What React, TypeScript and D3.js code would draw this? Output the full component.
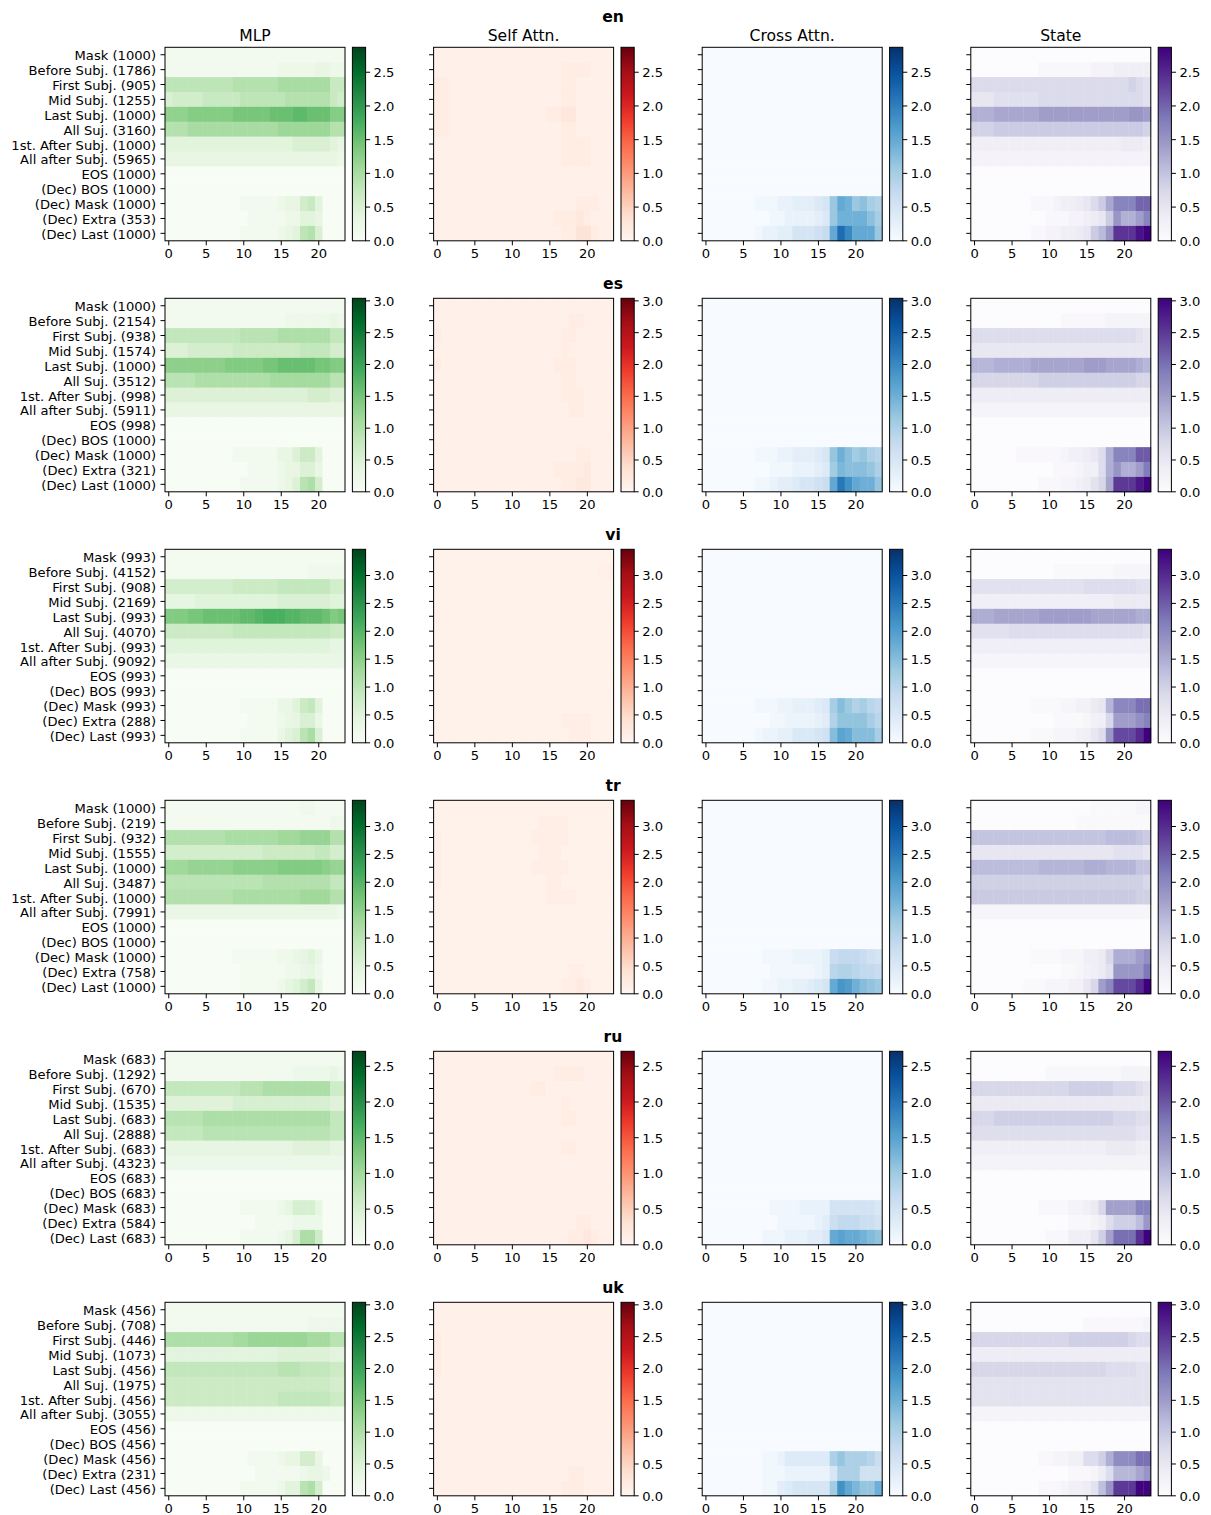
import React from "react";
import * as d3 from "d3";

// Languages (one row of panels each) and the four module columns
const LANGS = ["en", "es", "vi", "tr", "ru", "uk"];
const MODULES = ["MLP", "Self Attn.", "Cross Attn.", "State"];
const TOKENS = [
  "Mask", "Before Subj.", "First Subj.", "Mid Subj.", "Last Subj.", "All Suj.",
  "1st. After Subj.", "All after Subj.", "EOS", "(Dec) BOS", "(Dec) Mask", "(Dec) Extra", "(Dec) Last",
];

// Number of samples behind each token position
const EN_COUNTS = [1000, 1786, 905, 1255, 1000, 3160, 1000, 5965, 1000, 1000, 1000, 353, 1000];
const ES_COUNTS = [1000, 2154, 938, 1574, 1000, 3512, 998, 5911, 998, 1000, 1000, 321, 1000];
const VI_COUNTS = [993, 4152, 908, 2169, 993, 4070, 993, 9092, 993, 993, 993, 288, 993];
const TR_COUNTS = [1000, 219, 932, 1555, 1000, 3487, 1000, 7991, 1000, 1000, 1000, 758, 1000];
const RU_COUNTS = [683, 1292, 670, 1535, 683, 2888, 683, 4323, 683, 683, 683, 584, 683];
const UK_COUNTS = [456, 708, 446, 1073, 456, 1975, 456, 3055, 456, 456, 456, 231, 456];

// Upper limit of the shared colour scale for each language
const COLOR_MAX = [2.87, 3.04, 3.47, 3.47, 2.71, 3.04];
const LAYER_TICKS = [0, 5, 10, 15, 20];
const COLORBAR_TICKS = [0, 0.5, 1, 1.5, 2, 2.5, 3, 3.5];
const N_LAYERS = 24;

// Effect per token (rows) and layer (columns).
// MLP, cross-attention and state effects are stored in tenths,
// self-attention effects (much smaller) in hundredths.
const EN_MLP = [
  [1,1,1,1,1,1,1,1,1,1,1,1,1,1,1,1,1,1,1,1,1,1,1,1],
  [1,1,1,1,1,1,1,1,1,1,1,1,1,1,1,2,2,2,2,2,3,3,2,2],
  [8,8,8,8,8,8,8,8,8,9,9,9,9,9,9,10,10,10,10,10,10,10,7,7],
  [5,6,6,6,6,7,7,7,7,7,8,8,8,8,8,8,9,9,9,9,9,9,7,6],
  [12,12,12,13,13,13,13,13,13,14,14,14,14,14,15,15,15,16,16,15,15,15,13,13],
  [9,9,9,10,10,10,10,10,10,10,10,10,10,10,10,11,11,11,11,11,11,11,9,9],
  [4,4,4,4,4,4,4,4,4,4,4,4,4,4,4,4,4,5,5,5,5,5,4,3],
  [3,3,3,3,3,3,3,3,3,3,3,3,3,3,3,3,3,3,3,3,3,3,3,2],
  [0,0,0,0,0,0,0,0,0,0,0,0,0,0,0,0,0,0,0,0,0,0,0,0],
  [0,0,0,0,0,0,0,0,0,0,0,0,0,0,0,0,0,0,0,0,0,0,0,0],
  [0,0,0,0,0,0,0,0,0,0,1,1,1,1,1,2,3,3,6,7,4,0,0,0],
  [0,0,0,0,0,0,0,0,0,0,0,1,1,1,1,1,2,2,4,4,3,0,0,0],
  [0,0,0,0,0,0,0,0,0,0,1,1,1,1,1,2,3,4,8,9,5,0,0,0],
];
const EN_SELF = [
  [7,7,7,7,7,7,7,7,7,7,7,7,7,7,7,7,7,7,7,7,7,7,7,7],
  [7,7,7,7,7,7,7,7,7,7,7,7,7,7,7,7,7,15,15,15,15,7,7,7],
  [15,15,7,7,7,7,7,7,7,7,7,7,7,7,7,7,7,15,15,7,7,7,7,7],
  [15,15,7,7,7,7,7,7,7,7,7,7,7,7,7,7,7,15,15,7,7,7,7,7],
  [15,15,7,7,7,7,7,7,7,7,7,7,7,7,7,15,15,22,22,7,7,7,7,7],
  [15,15,7,7,7,7,7,7,7,7,7,7,7,7,7,7,7,15,15,7,7,7,7,7],
  [7,7,7,7,7,7,7,7,7,7,7,7,7,7,7,7,7,15,15,15,15,7,7,7],
  [7,7,7,7,7,7,7,7,7,7,7,7,7,7,7,7,7,15,15,15,15,7,7,7],
  [7,7,7,7,7,7,7,7,7,7,7,7,7,7,7,7,7,7,7,7,7,7,7,7],
  [7,7,7,7,7,7,7,7,7,7,7,7,7,7,7,7,7,7,7,7,7,7,7,7],
  [7,7,7,7,7,7,7,7,7,7,7,7,7,7,7,7,7,7,7,15,15,15,7,7],
  [7,7,7,7,7,7,7,7,7,7,7,7,7,7,7,7,15,15,15,22,15,7,7,7],
  [7,7,7,7,7,7,7,7,7,7,7,7,7,7,7,7,7,15,15,30,30,15,7,7],
];
const EN_CROSS = [
  [0,0,0,0,0,0,0,0,0,0,0,0,0,0,0,0,0,0,0,0,0,0,0,0],
  [0,0,0,0,0,0,0,0,0,0,0,0,0,0,0,0,0,0,0,0,0,0,0,0],
  [0,0,0,0,0,0,0,0,0,0,0,0,0,0,0,0,0,0,0,0,0,0,0,0],
  [0,0,0,0,0,0,0,0,0,0,0,0,0,0,0,0,0,0,0,0,0,0,0,0],
  [0,0,0,0,0,0,0,0,0,0,0,0,0,0,0,0,0,0,0,0,0,0,0,0],
  [0,0,0,0,0,0,0,0,0,0,0,0,0,0,0,0,0,0,0,0,0,0,0,0],
  [0,0,0,0,0,0,0,0,0,0,0,0,0,0,0,0,0,0,0,0,0,0,0,0],
  [0,0,0,0,0,0,0,0,0,0,0,0,0,0,0,0,0,0,0,0,0,0,0,0],
  [0,0,0,0,0,0,0,0,0,0,0,0,0,0,0,0,0,0,0,0,0,0,0,0],
  [0,0,0,0,0,0,0,0,0,0,0,0,0,0,0,0,0,0,0,0,0,0,0,0],
  [0,0,0,0,0,0,0,1,1,1,2,2,3,3,3,4,5,11,15,14,11,12,10,9],
  [0,0,0,0,0,0,0,0,0,1,1,2,2,2,2,3,4,11,14,14,14,14,12,10],
  [0,0,0,0,0,0,0,1,2,2,3,3,5,5,5,6,7,15,22,19,15,15,15,11],
];
const EN_STATE = [
  [0,0,0,0,0,0,0,0,0,0,0,0,0,0,0,0,0,0,0,0,0,0,0,0],
  [0,0,0,0,0,0,0,0,0,1,1,1,1,1,1,1,2,2,2,3,3,3,3,3],
  [7,7,7,7,7,7,7,7,7,7,7,7,7,7,7,7,7,7,7,7,7,8,7,6],
  [5,5,5,6,6,6,6,6,6,7,7,7,7,7,7,7,7,7,7,7,7,7,7,6],
  [12,12,12,13,13,13,13,13,13,14,14,14,14,14,14,14,14,14,14,14,14,15,15,14],
  [8,8,8,9,9,9,9,9,9,9,9,9,9,9,9,9,9,9,9,9,9,9,9,8],
  [3,3,3,3,3,3,3,3,3,3,3,3,3,3,3,3,3,3,3,3,4,4,4,3],
  [2,2,2,2,2,2,2,2,2,2,2,2,2,2,2,2,2,2,2,2,2,2,2,2],
  [0,0,0,0,0,0,0,0,0,0,0,0,0,0,0,0,0,0,0,0,0,0,0,0],
  [0,0,0,0,0,0,0,0,0,0,0,0,0,0,0,0,0,0,0,0,0,0,0,0],
  [0,0,0,0,0,0,0,0,1,1,1,2,3,3,4,5,7,9,13,17,17,17,20,20],
  [0,0,0,0,0,0,0,0,0,0,1,1,1,2,2,3,4,5,9,15,12,12,14,17],
  [0,0,0,0,0,0,0,0,1,1,2,2,3,3,4,5,9,11,15,24,24,24,27,29],
];

const ES_MLP = [
  [1,1,1,1,1,1,1,1,1,1,1,1,1,1,1,1,1,1,1,1,1,1,1,1],
  [1,1,1,1,1,1,1,1,1,1,1,1,1,1,1,1,2,2,2,2,2,2,3,2],
  [8,8,8,8,8,8,8,8,8,8,9,9,9,9,9,10,10,10,10,10,10,10,8,8],
  [5,5,5,6,6,6,6,6,6,7,7,7,7,7,7,7,7,7,8,8,8,8,6,6],
  [13,13,13,13,13,13,13,13,14,14,14,14,14,15,15,16,16,16,16,16,15,15,14,14],
  [9,9,9,9,10,10,10,10,10,10,10,10,10,10,11,11,11,11,11,11,11,11,9,9],
  [5,5,5,5,5,5,5,5,5,5,5,5,5,5,5,5,5,5,5,6,6,6,5,5],
  [3,3,3,3,3,3,3,3,3,3,3,3,3,3,3,3,3,3,3,3,3,3,3,3],
  [0,0,0,0,0,0,0,0,0,0,0,0,0,0,0,0,0,0,0,0,0,0,0,0],
  [0,0,0,0,0,0,0,0,0,0,0,0,0,0,0,0,0,0,0,0,0,0,0,0],
  [0,0,0,0,0,0,0,0,0,1,1,1,1,1,1,3,3,5,7,7,4,0,0,0],
  [0,0,0,0,0,0,0,0,0,0,0,1,1,1,1,2,3,3,5,5,3,0,0,0],
  [0,0,0,0,0,0,0,0,0,0,1,1,1,1,1,2,3,5,9,10,6,0,0,0],
];
const ES_SELF = [
  [7,7,7,7,7,7,7,7,7,7,7,7,7,7,7,7,7,7,7,7,7,7,7,7],
  [7,7,7,7,7,7,7,7,7,7,7,7,7,7,7,7,7,7,15,15,7,7,7,7],
  [15,7,7,7,7,7,7,7,7,7,7,7,7,7,7,7,7,15,15,7,7,7,7,7],
  [7,7,7,7,7,7,7,7,7,7,7,7,7,7,7,7,7,15,7,7,7,7,7,7],
  [15,7,7,7,7,7,7,7,7,7,7,7,7,7,7,7,15,15,15,7,7,7,7,7],
  [7,7,7,7,7,7,7,7,7,7,7,7,7,7,7,7,7,15,15,7,7,7,7,7],
  [7,7,7,7,7,7,7,7,7,7,7,7,7,7,7,7,7,15,15,15,7,7,7,7],
  [7,7,7,7,7,7,7,7,7,7,7,7,7,7,7,7,7,7,15,15,7,7,7,7],
  [7,7,7,7,7,7,7,7,7,7,7,7,7,7,7,7,7,7,7,7,7,7,7,7],
  [7,7,7,7,7,7,7,7,7,7,7,7,7,7,7,7,7,7,7,7,7,7,7,7],
  [7,7,7,7,7,7,7,7,7,7,7,7,7,7,7,7,7,7,7,15,15,7,7,7],
  [7,7,7,7,7,7,7,7,7,7,7,7,7,7,7,7,15,15,15,15,22,7,7,7],
  [7,7,7,7,7,7,7,7,7,7,7,7,7,7,7,7,7,15,15,22,22,7,7,7],
];
const ES_CROSS = [
  [0,0,0,0,0,0,0,0,0,0,0,0,0,0,0,0,0,0,0,0,0,0,0,0],
  [0,0,0,0,0,0,0,0,0,0,0,0,0,0,0,0,0,0,0,0,0,0,0,0],
  [0,0,0,0,0,0,0,0,0,0,0,0,0,0,0,0,0,0,0,0,0,0,0,0],
  [0,0,0,0,0,0,0,0,0,0,0,0,0,0,0,0,0,0,0,0,0,0,0,0],
  [0,0,0,0,0,0,0,0,0,0,0,0,0,0,0,0,0,0,0,0,0,0,0,0],
  [0,0,0,0,0,0,0,0,0,0,0,0,0,0,0,0,0,0,0,0,0,0,0,0],
  [0,0,0,0,0,0,0,0,0,0,0,0,0,0,0,0,0,0,0,0,0,0,0,0],
  [0,0,0,0,0,0,0,0,0,0,0,0,0,0,0,0,0,0,0,0,0,0,0,0],
  [0,0,0,0,0,0,0,0,0,0,0,0,0,0,0,0,0,0,0,0,0,0,0,0],
  [0,0,0,0,0,0,0,0,0,0,0,0,0,0,0,0,0,0,0,0,0,0,0,0],
  [0,0,0,0,0,0,0,1,1,1,2,2,3,3,3,4,5,12,15,13,11,12,10,9],
  [0,0,0,0,0,0,0,0,0,1,1,1,2,2,2,3,4,11,14,13,13,13,12,10],
  [0,0,0,0,0,0,0,1,1,2,3,3,4,5,5,6,7,16,22,19,16,15,15,12],
];
const ES_STATE = [
  [0,0,0,0,0,0,0,0,0,0,0,0,0,0,0,0,0,0,0,0,0,0,0,0],
  [0,0,0,0,0,0,0,0,0,0,0,0,1,1,1,1,1,1,2,2,2,2,2,2],
  [7,7,7,7,7,7,7,7,7,7,7,7,7,7,7,7,7,7,7,7,7,7,6,5],
  [5,5,5,5,5,5,5,5,5,5,5,5,5,5,5,5,5,5,5,5,5,5,5,5],
  [12,12,12,13,13,13,13,13,14,14,14,14,14,14,14,15,15,15,14,14,14,14,13,12],
  [8,8,8,8,8,8,8,8,8,9,9,9,9,9,9,9,9,9,9,9,9,9,8,8],
  [4,4,4,4,4,4,4,4,4,4,4,4,4,4,4,4,4,4,4,4,4,4,4,4],
  [2,2,2,2,2,2,2,2,2,2,2,2,2,2,2,2,2,2,2,2,2,2,2,2],
  [0,0,0,0,0,0,0,0,0,0,0,0,0,0,0,0,0,0,0,0,0,0,0,0],
  [0,0,0,0,0,0,0,0,0,0,0,0,0,0,0,0,0,0,0,0,0,0,0,0],
  [0,0,0,0,0,0,1,1,1,1,1,1,2,3,3,4,5,7,13,18,18,18,22,22],
  [0,0,0,0,0,0,0,0,0,0,0,1,1,1,2,3,3,7,13,16,13,13,15,19],
  [0,0,0,0,0,0,0,0,0,1,1,1,2,2,3,4,6,8,14,25,25,25,28,30],
];

const VI_MLP = [
  [1,1,1,1,1,1,1,1,1,1,1,1,1,1,1,1,1,1,1,1,1,1,1,1],
  [1,1,1,1,1,1,1,1,1,1,1,1,1,1,1,1,1,1,1,2,2,2,2,2],
  [7,7,7,7,7,7,7,7,7,8,8,8,8,8,8,9,9,9,9,9,9,9,7,7],
  [4,4,4,4,5,5,5,5,5,5,5,5,5,5,5,6,6,6,6,6,6,6,5,5],
  [16,16,16,17,17,18,18,18,18,18,19,19,20,21,21,21,20,20,19,19,19,18,16,17],
  [8,8,8,8,8,8,8,8,8,9,9,9,9,9,9,9,9,9,9,9,9,9,8,8],
  [5,5,5,5,5,5,5,5,5,5,5,5,5,5,5,5,5,5,5,5,5,5,4,4],
  [3,3,3,3,3,3,3,3,3,3,3,3,3,3,3,3,3,3,3,3,3,3,3,3],
  [0,0,0,0,0,0,0,0,0,0,0,0,0,0,0,0,0,0,0,0,0,0,0,0],
  [0,0,0,0,0,0,0,0,0,0,0,0,0,0,0,0,0,0,0,0,0,0,0,0],
  [0,0,0,0,0,0,0,0,0,0,1,1,1,1,1,3,3,5,8,9,5,0,0,0],
  [0,0,0,0,0,0,0,0,0,0,0,1,1,1,1,2,3,4,6,6,3,0,0,0],
  [0,0,0,0,0,0,0,0,0,0,1,1,1,1,1,3,5,6,10,12,6,0,0,0],
];
const VI_SELF = [
  [7,7,7,7,7,7,7,7,7,7,7,7,7,7,7,7,7,7,7,7,7,7,7,7],
  [7,7,7,7,7,7,7,7,7,7,7,7,7,7,7,7,7,7,7,7,7,7,12,12],
  [7,7,7,7,7,7,7,7,7,7,7,7,7,7,7,7,7,7,7,7,7,7,7,7],
  [7,7,7,7,7,7,7,7,7,7,7,7,7,7,7,7,7,7,7,7,7,7,7,7],
  [12,7,7,7,7,7,7,7,7,7,7,7,7,7,7,7,7,7,7,7,7,7,7,7],
  [7,7,7,7,7,7,7,7,7,7,7,7,7,7,7,7,7,7,7,7,7,7,7,7],
  [7,7,7,7,7,7,7,7,7,7,7,7,7,7,7,7,7,7,7,7,7,7,7,7],
  [7,7,7,7,7,7,7,7,7,7,7,7,7,7,7,7,7,7,7,7,7,7,7,7],
  [7,7,7,7,7,7,7,7,7,7,7,7,7,7,7,7,7,7,7,7,7,7,7,7],
  [7,7,7,7,7,7,7,7,7,7,7,7,7,7,7,7,7,7,7,7,7,7,7,7],
  [7,7,7,7,7,7,7,7,7,7,7,7,7,7,7,7,7,7,7,7,7,7,7,7],
  [7,7,7,7,7,7,7,7,7,7,7,7,7,7,7,7,7,15,15,15,15,7,7,7],
  [7,7,7,7,7,7,7,7,7,7,7,7,7,7,7,7,7,7,15,15,15,7,7,7],
];
const VI_CROSS = [
  [0,0,0,0,0,0,0,0,0,0,0,0,0,0,0,0,0,0,0,0,0,0,0,0],
  [0,0,0,0,0,0,0,0,0,0,0,0,0,0,0,0,0,0,0,0,0,0,0,0],
  [0,0,0,0,0,0,0,0,0,0,0,0,0,0,0,0,0,0,0,0,0,0,0,0],
  [0,0,0,0,0,0,0,0,0,0,0,0,0,0,0,0,0,0,0,0,0,0,0,0],
  [0,0,0,0,0,0,0,0,0,0,0,0,0,0,0,0,0,0,0,0,0,0,0,0],
  [0,0,0,0,0,0,0,0,0,0,0,0,0,0,0,0,0,0,0,0,0,0,0,0],
  [0,0,0,0,0,0,0,0,0,0,0,0,0,0,0,0,0,0,0,0,0,0,0,0],
  [0,0,0,0,0,0,0,0,0,0,0,0,0,0,0,0,0,0,0,0,0,0,0,0],
  [0,0,0,0,0,0,0,0,0,0,0,0,0,0,0,0,0,0,0,0,0,0,0,0],
  [0,0,0,0,0,0,0,0,0,0,0,0,0,0,0,0,0,0,0,0,0,0,0,0],
  [0,0,0,0,0,0,0,1,1,1,2,2,3,3,3,4,5,12,15,13,11,12,10,9],
  [0,0,0,0,0,0,0,0,0,1,1,2,2,2,2,3,4,11,14,14,14,14,12,10],
  [0,0,0,0,0,0,0,1,2,2,3,3,5,5,5,6,7,15,19,18,15,15,15,12],
];
const VI_STATE = [
  [0,0,0,0,0,0,0,0,0,0,0,0,0,0,0,0,0,0,0,0,0,0,0,0],
  [0,0,0,0,0,0,0,0,0,0,0,1,1,1,1,1,1,1,1,2,2,2,2,2],
  [7,7,7,7,7,7,7,7,7,7,7,7,7,7,7,8,8,8,8,8,8,8,7,7],
  [4,4,4,4,4,4,4,4,4,4,4,4,4,4,4,4,4,4,4,5,5,5,5,5],
  [15,15,15,16,16,16,16,16,16,17,17,17,17,17,17,17,16,16,16,16,16,16,15,15],
  [7,7,7,7,7,8,8,8,8,8,8,8,8,8,8,8,8,8,8,8,8,8,8,7],
  [4,4,4,4,4,4,4,4,4,4,4,4,4,4,4,4,4,4,4,4,4,4,4,4],
  [2,2,2,2,2,2,2,2,2,2,2,2,2,2,2,2,2,2,2,2,2,2,2,2],
  [0,0,0,0,0,0,0,0,0,0,0,0,0,0,0,0,0,0,0,0,0,0,0,0],
  [0,0,0,0,0,0,0,0,0,0,0,0,0,0,0,0,0,0,0,0,0,0,0,0],
  [0,0,0,0,0,0,0,0,1,1,1,1,2,2,3,3,5,6,14,20,20,20,23,23],
  [0,0,0,0,0,0,0,0,0,0,0,1,1,1,1,2,3,4,9,17,17,17,19,21],
  [0,0,0,0,0,0,0,0,1,1,1,2,2,2,3,4,6,8,18,27,27,27,30,35],
];

const TR_MLP = [
  [1,1,1,1,1,1,1,1,1,1,1,1,1,1,1,1,1,1,2,2,1,1,1,1],
  [1,1,1,1,1,1,1,1,1,1,1,1,1,1,1,1,1,1,1,1,1,1,2,2],
  [11,11,11,11,11,11,11,11,12,12,12,12,12,12,12,13,13,13,14,14,14,14,11,11],
  [7,7,7,7,7,7,7,7,7,7,7,7,7,8,8,8,8,8,8,8,9,9,7,7],
  [13,13,13,14,14,14,14,14,14,15,15,15,15,15,15,16,16,16,16,16,16,15,14,14],
  [10,10,10,10,10,10,10,10,10,10,10,10,10,11,11,11,11,11,11,11,11,11,9,9],
  [11,11,11,11,11,11,11,11,11,12,12,12,12,12,12,12,12,12,13,13,13,13,11,11],
  [3,3,3,3,3,3,3,3,3,3,3,3,3,3,3,3,3,3,3,3,3,3,3,2],
  [0,0,0,0,0,0,0,0,0,0,0,0,0,0,0,0,0,0,0,0,0,0,0,0],
  [0,0,0,0,0,0,0,0,0,0,0,0,0,0,0,0,0,0,0,0,0,0,0,0],
  [0,0,0,0,0,0,0,0,0,1,1,1,1,1,1,2,2,3,4,5,3,0,0,0],
  [0,0,0,0,0,0,0,0,0,0,1,1,1,1,1,1,2,2,3,4,2,0,0,0],
  [0,0,0,0,0,0,0,0,0,0,1,1,1,1,1,2,4,5,7,9,4,0,0,0],
];
const TR_SELF = [
  [7,7,7,7,7,7,7,7,7,7,7,7,7,7,7,7,7,7,7,7,7,7,7,7],
  [7,7,7,7,7,7,7,7,7,7,7,7,7,7,15,15,15,15,7,7,7,7,7,7],
  [15,7,7,7,7,7,7,7,7,7,7,7,7,15,15,15,15,15,7,7,7,7,7,7],
  [15,7,7,7,7,7,7,7,7,7,7,7,7,7,15,15,15,7,7,7,7,7,7,7],
  [15,7,7,7,7,7,7,7,7,7,7,7,7,15,15,15,15,15,7,7,7,7,7,7],
  [15,7,7,7,7,7,7,7,7,7,7,7,7,7,7,15,15,7,7,7,7,7,7,7],
  [7,7,7,7,7,7,7,7,7,7,7,7,7,7,7,15,15,15,15,7,7,7,7,7],
  [7,7,7,7,7,7,7,7,7,7,7,7,7,7,7,7,7,7,7,7,7,7,7,7],
  [7,7,7,7,7,7,7,7,7,7,7,7,7,7,7,7,7,7,7,7,7,7,7,7],
  [7,7,7,7,7,7,7,7,7,7,7,7,7,7,7,7,7,7,7,7,7,7,7,7],
  [7,7,7,7,7,7,7,7,7,7,7,7,7,7,7,7,7,7,7,7,7,7,7,7],
  [7,7,7,7,7,7,7,7,7,7,7,7,7,7,7,7,7,7,15,15,7,7,7,7],
  [7,7,7,7,7,7,7,7,7,7,7,7,7,7,7,7,7,15,15,22,15,7,7,7],
];
const TR_CROSS = [
  [0,0,0,0,0,0,0,0,0,0,0,0,0,0,0,0,0,0,0,0,0,0,0,0],
  [0,0,0,0,0,0,0,0,0,0,0,0,0,0,0,0,0,0,0,0,0,0,0,0],
  [0,0,0,0,0,0,0,0,0,0,0,0,0,0,0,0,0,0,0,0,0,0,0,0],
  [0,0,0,0,0,0,0,0,0,0,0,0,0,0,0,0,0,0,0,0,0,0,0,0],
  [0,0,0,0,0,0,0,0,0,0,0,0,0,0,0,0,0,0,0,0,0,0,0,0],
  [0,0,0,0,0,0,0,0,0,0,0,0,0,0,0,0,0,0,0,0,0,0,0,0],
  [0,0,0,0,0,0,0,0,0,0,0,0,0,0,0,0,0,0,0,0,0,0,0,0],
  [0,0,0,0,0,0,0,0,0,0,0,0,0,0,0,0,0,0,0,0,0,0,0,0],
  [0,0,0,0,0,0,0,0,0,0,0,0,0,0,0,0,0,0,0,0,0,0,0,0],
  [0,0,0,0,0,0,0,0,0,0,0,0,0,0,0,0,0,0,0,0,0,0,0,0],
  [0,0,0,0,0,0,0,0,1,1,1,1,2,2,2,2,3,8,9,9,9,8,7,6],
  [0,0,0,0,0,0,0,0,0,1,1,1,1,1,1,2,3,10,11,11,10,9,9,8],
  [0,0,0,0,0,0,0,0,1,1,2,2,3,3,4,5,6,18,21,20,17,15,14,13],
];
const TR_STATE = [
  [0,0,0,0,0,0,0,0,0,0,0,0,0,0,0,0,1,1,1,1,1,1,2,2],
  [0,0,0,0,0,0,0,0,0,0,0,0,0,0,1,1,1,1,1,1,1,1,1,1],
  [12,12,12,12,12,12,12,12,12,12,12,12,12,12,12,12,12,12,13,13,13,13,12,11],
  [6,6,6,6,6,6,6,6,6,6,6,6,6,6,6,6,6,6,6,7,7,7,7,6],
  [13,13,13,13,13,13,13,13,13,14,14,14,14,14,14,15,15,15,14,14,14,14,12,12],
  [10,10,10,10,10,10,10,10,10,10,10,10,10,10,10,10,10,10,10,10,10,10,10,9],
  [11,11,11,11,11,11,11,11,11,11,11,11,11,11,11,11,11,11,11,11,11,11,10,10],
  [2,2,2,2,2,2,2,2,2,2,2,2,2,2,2,2,2,2,2,2,2,2,2,2],
  [0,0,0,0,0,0,0,0,0,0,0,0,0,0,0,0,0,0,0,0,0,0,0,0],
  [0,0,0,0,0,0,0,0,0,0,0,0,0,0,0,0,0,0,0,0,0,0,0,0],
  [0,0,0,0,0,0,0,0,1,1,1,1,2,2,2,4,4,5,9,15,15,15,17,19],
  [0,0,0,0,0,0,0,0,0,0,0,0,1,1,2,3,4,5,7,18,18,18,18,22],
  [0,0,0,0,0,0,0,1,1,1,2,2,2,3,3,6,9,17,20,27,27,27,30,35],
];

const RU_MLP = [
  [1,1,1,1,1,1,1,1,1,1,1,1,1,1,1,1,1,1,1,1,1,1,1,1],
  [1,1,1,1,1,1,1,1,1,1,1,1,1,1,1,1,1,2,2,2,2,2,3,2],
  [7,7,7,7,7,7,7,7,7,7,8,8,8,9,9,9,9,9,9,9,9,9,6,6],
  [4,4,4,4,4,4,4,4,4,5,5,5,5,5,5,5,5,5,5,5,5,5,4,4],
  [8,8,8,8,8,9,9,9,9,9,9,9,9,9,9,9,9,9,9,9,9,9,7,7],
  [7,7,7,7,7,8,8,8,8,8,8,8,8,8,8,8,8,8,8,8,8,8,7,7],
  [3,3,3,3,3,3,3,3,3,3,3,3,3,3,3,3,3,4,4,4,4,4,3,3],
  [2,2,2,2,2,2,2,2,2,2,2,2,2,2,2,2,2,2,2,2,2,2,2,2],
  [0,0,0,0,0,0,0,0,0,0,0,0,0,0,0,0,0,0,0,0,0,0,0,0],
  [0,0,0,0,0,0,0,0,0,0,0,0,0,0,0,0,0,0,0,0,0,0,0,0],
  [0,0,0,0,0,0,0,0,0,0,1,1,1,1,1,2,3,5,5,5,3,0,0,0],
  [0,0,0,0,0,0,0,0,0,0,0,0,1,1,1,1,1,2,2,2,2,0,0,0],
  [0,0,0,0,0,0,0,0,0,0,1,1,1,1,1,2,3,5,9,9,6,0,0,0],
];
const RU_SELF = [
  [7,7,7,7,7,7,7,7,7,7,7,7,7,7,7,7,7,7,7,7,7,7,7,7],
  [7,7,7,7,7,7,7,7,7,7,7,7,7,7,7,7,15,15,15,15,7,7,7,7],
  [7,7,7,7,7,7,7,7,7,7,7,7,7,15,15,7,7,7,7,7,7,7,7,7],
  [7,7,7,7,7,7,7,7,7,7,7,7,7,7,7,7,7,15,7,7,7,7,7,7],
  [7,7,7,7,7,7,7,7,7,7,7,7,7,7,7,7,7,15,15,7,7,7,7,7],
  [7,7,7,7,7,7,7,7,7,7,7,7,7,7,7,7,7,7,7,7,7,7,7,7],
  [7,7,7,7,7,7,7,7,7,7,7,7,7,7,7,7,7,15,15,7,7,7,7,7],
  [7,7,7,7,7,7,7,7,7,7,7,7,7,7,7,7,7,7,7,7,7,7,7,7],
  [7,7,7,7,7,7,7,7,7,7,7,7,7,7,7,7,7,7,7,7,7,7,7,7],
  [7,7,7,7,7,7,7,7,7,7,7,7,7,7,7,7,7,7,7,7,7,7,7,7],
  [7,7,7,7,7,7,7,7,7,7,7,7,7,7,7,7,7,7,7,7,7,7,7,7],
  [7,7,7,7,7,7,7,7,7,7,7,7,7,7,7,7,7,7,7,15,15,7,7,7],
  [7,7,7,7,7,7,7,7,7,7,7,7,7,7,7,7,7,7,15,15,22,15,7,7],
];
const RU_CROSS = [
  [0,0,0,0,0,0,0,0,0,0,0,0,0,0,0,0,0,0,0,0,0,0,0,0],
  [0,0,0,0,0,0,0,0,0,0,0,0,0,0,0,0,0,0,0,0,0,0,0,0],
  [0,0,0,0,0,0,0,0,0,0,0,0,0,0,0,0,0,0,0,0,0,0,0,0],
  [0,0,0,0,0,0,0,0,0,0,0,0,0,0,0,0,0,0,0,0,0,0,0,0],
  [0,0,0,0,0,0,0,0,0,0,0,0,0,0,0,0,0,0,0,0,0,0,0,0],
  [0,0,0,0,0,0,0,0,0,0,0,0,0,0,0,0,0,0,0,0,0,0,0,0],
  [0,0,0,0,0,0,0,0,0,0,0,0,0,0,0,0,0,0,0,0,0,0,0,0],
  [0,0,0,0,0,0,0,0,0,0,0,0,0,0,0,0,0,0,0,0,0,0,0,0],
  [0,0,0,0,0,0,0,0,0,0,0,0,0,0,0,0,0,0,0,0,0,0,0,0],
  [0,0,0,0,0,0,0,0,0,0,0,0,0,0,0,0,0,0,0,0,0,0,0,0],
  [0,0,0,0,0,0,0,0,0,1,1,1,1,2,2,2,2,5,5,5,5,5,5,4],
  [0,0,0,0,0,0,0,0,0,0,1,1,1,1,1,2,3,6,7,7,7,6,6,5],
  [0,0,0,0,0,0,0,0,1,1,1,2,2,2,3,3,4,14,15,14,14,13,12,11],
];
const RU_STATE = [
  [0,0,0,0,0,0,0,0,0,0,0,0,0,0,0,0,0,0,0,0,0,0,0,0],
  [0,0,0,0,0,0,0,0,0,0,1,1,1,1,1,1,1,1,1,1,2,2,2,2],
  [7,7,7,7,7,7,7,7,7,7,7,7,7,8,8,8,8,8,8,7,7,7,6,5],
  [4,4,4,4,4,4,4,4,4,4,4,4,4,4,4,4,4,4,4,4,4,4,4,4],
  [7,7,7,8,8,8,8,8,8,8,8,8,8,8,8,8,8,8,8,7,7,7,6,6],
  [6,6,6,6,6,6,6,6,6,6,6,6,6,6,6,6,6,6,6,6,6,6,5,5],
  [3,3,3,3,3,3,3,3,3,3,3,3,3,3,3,3,3,3,4,4,4,4,3,3],
  [2,2,2,2,2,2,2,2,2,2,2,2,2,2,2,2,2,2,2,2,2,2,2,2],
  [0,0,0,0,0,0,0,0,0,0,0,0,0,0,0,0,0,0,0,0,0,0,0,0],
  [0,0,0,0,0,0,0,0,0,0,0,0,0,0,0,0,0,0,0,0,0,0,0,0],
  [0,0,0,0,0,0,0,0,0,1,1,1,1,2,2,3,4,7,13,13,13,13,16,16],
  [0,0,0,0,0,0,0,0,0,0,0,0,0,1,1,1,2,3,6,8,8,8,10,14],
  [0,0,0,0,0,0,0,0,0,0,1,1,1,3,3,3,5,8,13,18,18,18,23,27],
];

const UK_MLP = [
  [1,1,1,1,1,1,1,1,1,1,1,1,1,1,1,1,1,1,1,1,1,1,1,1],
  [1,1,1,1,1,1,1,1,1,1,1,1,1,1,1,1,1,1,1,2,2,2,2,2],
  [10,10,10,10,10,10,10,10,10,11,11,12,12,12,12,12,12,12,12,11,11,11,9,9],
  [4,4,4,4,4,4,4,4,4,4,4,4,4,4,4,5,5,5,5,5,5,5,4,4],
  [8,8,8,8,8,8,8,8,8,8,8,8,8,8,8,9,9,9,8,8,8,8,7,7],
  [7,7,7,7,7,7,7,7,7,7,7,7,7,7,7,7,7,7,7,7,7,7,6,6],
  [7,7,7,7,7,7,7,7,7,7,7,7,7,7,7,8,8,8,8,8,8,8,7,7],
  [2,2,2,2,2,2,2,2,2,2,2,2,2,2,2,2,2,2,2,2,2,2,2,2],
  [0,0,0,0,0,0,0,0,0,0,0,0,0,0,0,0,0,0,0,0,0,0,0,0],
  [0,0,0,0,0,0,0,0,0,0,0,0,0,0,0,0,0,0,0,0,0,0,0,0],
  [0,0,0,0,0,0,0,0,0,0,0,1,1,1,1,2,3,3,6,6,3,0,0,0],
  [0,0,0,0,0,0,0,0,0,0,0,0,1,1,1,1,1,1,2,3,3,2,0,0],
  [0,0,0,0,0,0,0,0,0,0,1,1,1,1,1,2,4,4,9,10,6,0,0,0],
];
const UK_SELF = [
  [7,7,7,7,7,7,7,7,7,7,7,7,7,7,7,7,7,7,7,7,7,7,7,7],
  [7,7,7,7,7,7,7,7,7,7,7,7,7,7,7,7,7,7,7,7,7,7,7,7],
  [15,7,7,7,7,7,7,7,7,7,7,7,7,7,7,7,7,7,7,7,7,7,7,7],
  [15,7,7,7,7,7,7,7,7,7,7,7,7,7,7,7,7,7,7,7,7,7,7,7],
  [15,7,7,7,7,7,7,7,7,7,7,7,7,7,7,7,7,7,7,7,7,7,7,7],
  [7,7,7,7,7,7,7,7,7,7,7,7,7,7,7,7,7,7,7,7,7,7,7,7],
  [7,7,7,7,7,7,7,7,7,7,7,7,7,7,7,7,7,7,7,7,7,7,7,7],
  [7,7,7,7,7,7,7,7,7,7,7,7,7,7,7,7,7,7,7,7,7,7,7,7],
  [7,7,7,7,7,7,7,7,7,7,7,7,7,7,7,7,7,7,7,7,7,7,7,7],
  [7,7,7,7,7,7,7,7,7,7,7,7,7,7,7,7,7,7,7,7,7,7,7,7],
  [7,7,7,7,7,7,7,7,7,7,7,7,7,7,7,7,7,7,7,7,7,7,7,7],
  [7,7,7,7,7,7,7,7,7,7,7,7,7,7,7,7,7,7,15,15,7,7,7,7],
  [7,7,7,7,7,7,7,7,7,7,7,7,7,7,7,7,7,15,15,15,7,7,7,7],
];
const UK_CROSS = [
  [0,0,0,0,0,0,0,0,0,0,0,0,0,0,0,0,0,0,0,0,0,0,0,0],
  [0,0,0,0,0,0,0,0,0,0,0,0,0,0,0,0,0,0,0,0,0,0,0,0],
  [0,0,0,0,0,0,0,0,0,0,0,0,0,0,0,0,0,0,0,0,0,0,0,0],
  [0,0,0,0,0,0,0,0,0,0,0,0,0,0,0,0,0,0,0,0,0,0,0,0],
  [0,0,0,0,0,0,0,0,0,0,0,0,0,0,0,0,0,0,0,0,0,0,0,0],
  [0,0,0,0,0,0,0,0,0,0,0,0,0,0,0,0,0,0,0,0,0,0,0,0],
  [0,0,0,0,0,0,0,0,0,0,0,0,0,0,0,0,0,0,0,0,0,0,0,0],
  [0,0,0,0,0,0,0,0,0,0,0,0,0,0,0,0,0,0,0,0,0,0,0,0],
  [0,0,0,0,0,0,0,0,0,0,0,0,0,0,0,0,0,0,0,0,0,0,0,0],
  [0,0,0,0,0,0,0,0,0,0,0,0,0,0,0,0,0,0,0,0,0,0,0,0],
  [0,0,0,0,0,0,0,0,1,1,2,4,4,4,4,4,4,10,12,10,10,10,9,7],
  [0,0,0,0,0,0,0,0,1,1,1,2,2,2,2,2,2,5,10,10,10,6,6,6],
  [0,0,0,0,0,0,0,0,1,1,3,4,5,5,5,5,5,11,19,16,14,12,12,15],
];
const UK_STATE = [
  [0,0,0,0,0,0,0,0,0,0,0,0,0,0,0,0,0,0,0,0,0,0,0,0],
  [0,0,0,0,0,0,0,0,0,0,0,0,0,0,0,1,1,1,1,1,1,1,1,2],
  [8,8,8,8,8,8,8,8,8,8,8,8,8,9,9,9,9,9,9,9,9,8,7,7],
  [4,4,4,4,4,4,4,4,4,4,4,4,4,4,4,4,4,4,4,4,4,4,4,4],
  [8,8,8,8,8,8,8,8,8,8,8,8,8,8,8,8,8,8,7,7,7,7,6,6],
  [6,6,6,6,6,6,6,6,6,6,6,6,6,6,6,6,6,6,6,6,6,6,6,6],
  [6,6,6,6,6,6,6,6,6,6,6,6,6,6,6,6,6,6,6,6,6,6,6,6],
  [2,2,2,2,2,2,2,2,2,2,2,2,2,2,2,2,2,2,2,2,2,2,2,2],
  [0,0,0,0,0,0,0,0,0,0,0,0,0,0,0,0,0,0,0,0,0,0,0,0],
  [0,0,0,0,0,0,0,0,0,0,0,0,0,0,0,0,0,0,0,0,0,0,0,0],
  [0,0,0,0,0,0,0,0,0,1,1,2,2,3,3,7,7,9,13,17,17,17,20,20],
  [0,0,0,0,0,0,0,0,0,0,0,0,0,1,1,1,2,4,7,12,12,12,14,16],
  [0,0,0,0,0,0,0,0,0,1,1,1,2,3,3,4,6,11,16,25,25,25,30,30],
];

const PANELS = [
  [EN_MLP, EN_SELF, EN_CROSS, EN_STATE],
  [ES_MLP, ES_SELF, ES_CROSS, ES_STATE],
  [VI_MLP, VI_SELF, VI_CROSS, VI_STATE],
  [TR_MLP, TR_SELF, TR_CROSS, TR_STATE],
  [RU_MLP, RU_SELF, RU_CROSS, RU_STATE],
  [UK_MLP, UK_SELF, UK_CROSS, UK_STATE],
];
const COUNTS = [EN_COUNTS, ES_COUNTS, VI_COUNTS, TR_COUNTS, RU_COUNTS, UK_COUNTS];
const SCHEMES = [d3.schemeGreens[9], d3.schemeReds[9], d3.schemeBlues[9], d3.schemePurples[9]];
// Storage unit of each module's arrays
const UNITS = [0.1, 0.01, 0.1, 0.1];

// Figure geometry
const WIDTH = 1211;
const HEIGHT = 1515;
const COL_LEFT = [165, 433.6, 702.2, 970.8];
const PANEL_W = 180;
const PANEL_H = 193.5;
const FIRST_TOP = 47.3;
const ROW_STEP = 251;
const CB_OFFSET = 187.4;
const CB_W = 13.2;
const TICK = 4.5;
const FONT = "DejaVu Sans";
const TICK_FS = 13.1;
const TITLE_FS = 15.6;

function ramp(scheme: readonly string[]) {
  return d3
    .scaleLinear<string>()
    .domain(scheme.map((_, i) => i / (scheme.length - 1)))
    .range(scheme as string[])
    .interpolate(d3.interpolateRgb)
    .clamp(true);
}

function Panel({ li, mi }: { li: number; mi: number }) {
  const data = PANELS[li][mi];
  const unit = UNITS[mi];
  const vmax = COLOR_MAX[li];
  const left = COL_LEFT[mi];
  const top = FIRST_TOP + li * ROW_STEP;
  const bottom = top + PANEL_H;
  const x = d3.scaleLinear().domain([-0.5, N_LAYERS - 0.5]).range([left, left + PANEL_W]);
  const y = d3.scaleLinear().domain([-0.5, TOKENS.length - 0.5]).range([top, bottom]);
  const colorT = ramp(SCHEMES[mi]);
  const color = (v: number) => colorT(v / vmax);
  const cbX = left + CB_OFFSET;
  const cbY = d3.scaleLinear().domain([0, vmax]).range([bottom, top]);
  const counts = COUNTS[li];

  return (
    <g>
      {data.map((row, r) =>
        row.map((val, c) => (
          <rect
            key={`${r}-${c}`}
            x={x(c - 0.5)}
            y={y(r - 0.5)}
            width={x(c + 0.5) - x(c - 0.5) + 0.4}
            height={y(r + 0.5) - y(r - 0.5) + 0.4}
            fill={color(val * unit)}
          />
        ))
      )}
      <rect x={left} y={top} width={PANEL_W} height={PANEL_H} fill="none" stroke="#000" strokeWidth={1} />
      {TOKENS.map((t, r) => (
        <g key={`yt${r}`}>
          <line x1={left - TICK} x2={left} y1={y(r)} y2={y(r)} stroke="#000" strokeWidth={1} />
          {mi === 0 && (
            <text x={left - 9} y={y(r)} dy="0.42em" textAnchor="end" fontSize={TICK_FS} fill="#000">
              {`${t} (${counts[r]})`}
            </text>
          )}
        </g>
      ))}
      {LAYER_TICKS.map((t) => (
        <g key={`xt${t}`}>
          <line x1={x(t)} x2={x(t)} y1={bottom} y2={bottom + TICK} stroke="#000" strokeWidth={1} />
          <text x={x(t)} y={bottom + 17.4} textAnchor="middle" fontSize={TICK_FS} fill="#000">
            {t}
          </text>
        </g>
      ))}
      <rect x={cbX} y={top} width={CB_W} height={PANEL_H} fill={`url(#cb${mi})`} />
      <rect x={cbX} y={top} width={CB_W} height={PANEL_H} fill="none" stroke="#000" strokeWidth={1} />
      {COLORBAR_TICKS.filter((t) => t <= vmax).map((t) => (
        <g key={`ct${t}`}>
          <line x1={cbX + CB_W} x2={cbX + CB_W + TICK} y1={cbY(t)} y2={cbY(t)} stroke="#000" strokeWidth={1} />
          <text x={cbX + CB_W + 8} y={cbY(t)} dy="0.38em" fontSize={TICK_FS} fill="#000">
            {t.toFixed(1)}
          </text>
        </g>
      ))}
      {li === 0 && (
        <text x={left + PANEL_W / 2} y={top - 6.5} textAnchor="middle" fontSize={TITLE_FS} fill="#000">
          {MODULES[mi]}
        </text>
      )}
    </g>
  );
}

export default function App() {
  return (
    <svg
      width={WIDTH}
      height={HEIGHT}
      style={{ position: "absolute", left: 0, top: 0, display: "block" }}
      fontFamily={FONT}
    >
      <rect width={WIDTH} height={HEIGHT} fill="#fff" />
      <defs>
        {SCHEMES.map((s, i) => (
          <linearGradient key={i} id={`cb${i}`} x1="0" y1="1" x2="0" y2="0">
            {s.map((c, k) => (
              <stop key={k} offset={k / (s.length - 1)} stopColor={c} />
            ))}
          </linearGradient>
        ))}
      </defs>
      {LANGS.map((lang, li) => (
        <g key={lang}>
          <text
            x={613}
            y={li === 0 ? 21.5 : FIRST_TOP + li * ROW_STEP - 9}
            textAnchor="middle"
            fontSize={TITLE_FS}
            fontWeight="bold"
            fill="#000"
          >
            {lang}
          </text>
          {MODULES.map((_, mi) => (
            <Panel key={mi} li={li} mi={mi} />
          ))}
        </g>
      ))}
    </svg>
  );
}
